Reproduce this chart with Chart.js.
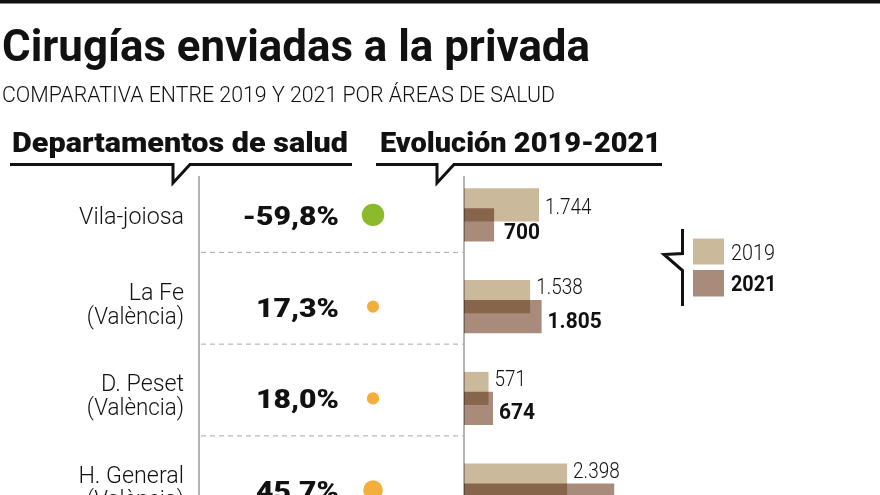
<!DOCTYPE html>
<html><head><meta charset="utf-8">
<script src="https://cdn.jsdelivr.net/npm/chart.js@4.4.0/dist/chart.umd.min.js"></script>
<style>html,body{margin:0;padding:0;background:#fff;overflow:hidden}#wrap{position:relative;width:880px;height:560px}</style>
</head><body><div id="wrap"><canvas id="c"></canvas></div>
<script>
const titleText = 'Cirugías enviadas a la privada';
const subtitleText = 'COMPARATIVA ENTRE 2019 Y 2021 POR ÁREAS DE SALUD';
const headerLeft = 'Departamentos de salud';
const headerRight = 'Evolución 2019-2021';
const departmentLines = [['Vila-joiosa'], ['La Fe', '(València)'], ['D. Peset', '(València)'], ['H. General', '(València)']];
const categories = departmentLines.map(l => l.join(' '));
const seriesNames = ['2019', '2021'];
const values2019 = [1744, 1538, 571, 2398];
const values2021 = [700, 1805, 674, 3494];
const pctChange = [-59.8, 17.3, 18.0, 45.7];

const C2019 = '#cbb99b', C2021 = '#a88b7b';
const fmtNum = v => String(v).replace(/\B(?=(\d{3})+(?!\d))/g, '.');
const fmtPct = v => v.toFixed(1).replace('.', ',') + '%';

function txt(ctx, s, x, y, font, o = {}) {
  ctx.save();
  ctx.font = font;
  ctx.fillStyle = o.color || '#111';
  ctx.textBaseline = 'alphabetic';
  ctx.textAlign = 'left';
  const w = ctx.measureText(s).width;
  let sx = o.sx || 1;
  if (o.width) sx = o.width / w;
  const dw = w * sx;
  let left = x;
  if (o.align === 'right') left = x - dw; else if (o.align === 'center') left = x - dw / 2;
  ctx.translate(left, y);
  ctx.scale(sx, 1);
  ctx.fillText(s, 0, 0);
  ctx.restore();
  return dw;
}
function poly(ctx, pts, w, color) {
  ctx.save();
  ctx.strokeStyle = color; ctx.lineWidth = w; ctx.lineJoin = 'miter';
  ctx.beginPath();
  pts.forEach((p, i) => i ? ctx.lineTo(p[0], p[1]) : ctx.moveTo(p[0], p[1]));
  ctx.stroke(); ctx.restore();
}

const decor = {
  id: 'decor',
  beforeDatasetsDraw(chart) {
    const ctx = chart.ctx, ys = chart.scales.y;
    ctx.save();
    ctx.fillStyle = '#111';
    ctx.fillRect(0, 0, 880, 3.5);
    txt(ctx, titleText, 2, 61, '700 44px Roboto, sans-serif', {width: 588});
    txt(ctx, subtitleText, 2, 102, '300 22px Roboto, sans-serif', {width: 553});
    txt(ctx, headerLeft, 12, 152, '900 28px Roboto, sans-serif', {width: 336});
    txt(ctx, headerRight, 380, 152, '900 28px Roboto, sans-serif', {width: 281});
    poly(ctx, [[10, 164.5], [173, 164.5], [173, 183], [190, 164.5], [352, 164.5]], 3, '#111');
    poly(ctx, [[376, 164.5], [437, 164.5], [437, 183], [454, 164.5], [662, 164.5]], 3, '#111');
    poly(ctx, [[199, 176], [199, 560]], 2, '#b4b4b4');
    poly(ctx, [[464, 176], [464, 560]], 2, '#b4b4b4');
    categories.forEach((c, i) => {
      const cy = ys.getPixelForValue(i);
      if (i < categories.length - 1) {
        ctx.save();
        ctx.strokeStyle = '#a8a8a8'; ctx.lineWidth = 1; ctx.setLineDash([5, 4]);
        ctx.beginPath(); ctx.moveTo(201, cy + 37.5); ctx.lineTo(463, cy + 37.5); ctx.stroke();
        ctx.restore();
      }
      const lines = departmentLines[i];
      if (lines.length === 1) {
        txt(ctx, lines[0], 184, cy + 9, '300 24px Roboto, sans-serif', {align: 'right', sx: 0.97});
      } else {
        txt(ctx, lines[0], 184, cy - 7, '300 24px Roboto, sans-serif', {align: 'right', sx: 0.97});
        txt(ctx, lines[1], 184, cy + 17, '300 24px Roboto, sans-serif', {align: 'right', sx: 0.93});
      }
      txt(ctx, fmtPct(pctChange[i]), 339, cy + 10, '900 26px Roboto, sans-serif', {align: 'right', sx: 1.16});
    });
    ctx.restore();
  },
  afterDatasetsDraw(chart) {
    const ctx = chart.ctx, ys = chart.scales.y, xs = chart.scales.x;
    // change dots: library point elements, drawn outside the bar plot area
    const dotMeta = chart.getDatasetMeta(2);
    const fullArea = {left: 0, top: 0, right: chart.width, bottom: chart.height};
    dotMeta.data.forEach(el => el.draw(ctx, fullArea));
    categories.forEach((c, i) => {
      const cy = ys.getPixelForValue(i);
      const a = values2019[i], b = values2021[i];
      const up = b >= a;
      txt(ctx, fmtNum(a), xs.getPixelForValue(a) + 6, cy + (up ? -12.5 : -1), '300 22px Roboto, sans-serif', {sx: 0.86});
      txt(ctx, fmtNum(b), xs.getPixelForValue(b) + (up ? 6 : 10), cy + (up ? 21 : 24), '700 22px Roboto, sans-serif', {sx: 0.95});
    });
    poly(ctx, [[682.5, 229], [682.5, 253.5], [664, 254.5], [682.5, 270.5], [682.5, 306]], 3, '#111');
    ctx.save();
    ctx.fillStyle = C2019; ctx.fillRect(693, 238.5, 31, 26);
    ctx.fillStyle = C2021; ctx.fillRect(693, 270, 31, 26.5);
    ctx.restore();
    txt(ctx, seriesNames[0], 731, 259.5, '300 22px Roboto, sans-serif', {sx: 0.9});
    txt(ctx, seriesNames[1], 731, 290.5, '700 22px Roboto, sans-serif', {sx: 0.9});
  }
};
const blend = {
  id: 'blend',
  beforeDatasetDraw(chart, args) { if (args.index < 2) { chart.ctx.save(); chart.ctx.globalCompositeOperation = 'multiply'; } },
  afterDatasetDraw(chart, args) { if (args.index < 2) chart.ctx.restore(); }
};

new Chart(document.getElementById('c'), {
  type: 'bar',
  data: {
    labels: categories,
    datasets: [
      {label: seriesNames[0], data: values2019, backgroundColor: C2019, categoryPercentage: 0.436, barPercentage: 1.65, borderWidth: 0},
      {label: seriesNames[1], data: values2021, backgroundColor: C2021, categoryPercentage: 0.436, barPercentage: 1.65, borderWidth: 0},
      {type: 'scatter', indexAxis: 'x', label: 'variación', data: categories.map(c => ({x: 0, y: c})), xAxisID: 'xDot', yAxisID: 'y',
       pointRadius: ctx => 1.45 * Math.sqrt(Math.abs(pctChange[ctx.dataIndex])),
       pointBackgroundColor: ctx => pctChange[ctx.dataIndex] < 0 ? '#8cba2c' : '#f4ae3a',
       pointBorderWidth: 0, clip: false}
    ]
  },
  options: {
    indexAxis: 'y',
    responsive: true, maintainAspectRatio: false, animation: false, events: [],
    layout: {padding: {left: 464, top: 169, right: 0, bottom: 24}, autoPadding: false},
    plugins: {legend: {display: false}, tooltip: {enabled: false}, title: {display: false}},
    scales: {
      x: {type: 'linear', position: 'bottom', min: 0, max: 9674, offset: false, display: false},
      xDot: {type: 'linear', axis: 'x', position: 'bottom', min: 7, max: 39, offset: false, display: false},
      y: {type: 'category', position: 'left', labels: categories, offset: true, display: false}
    }
  },
  plugins: [decor, blend]
});
</script></body></html>
